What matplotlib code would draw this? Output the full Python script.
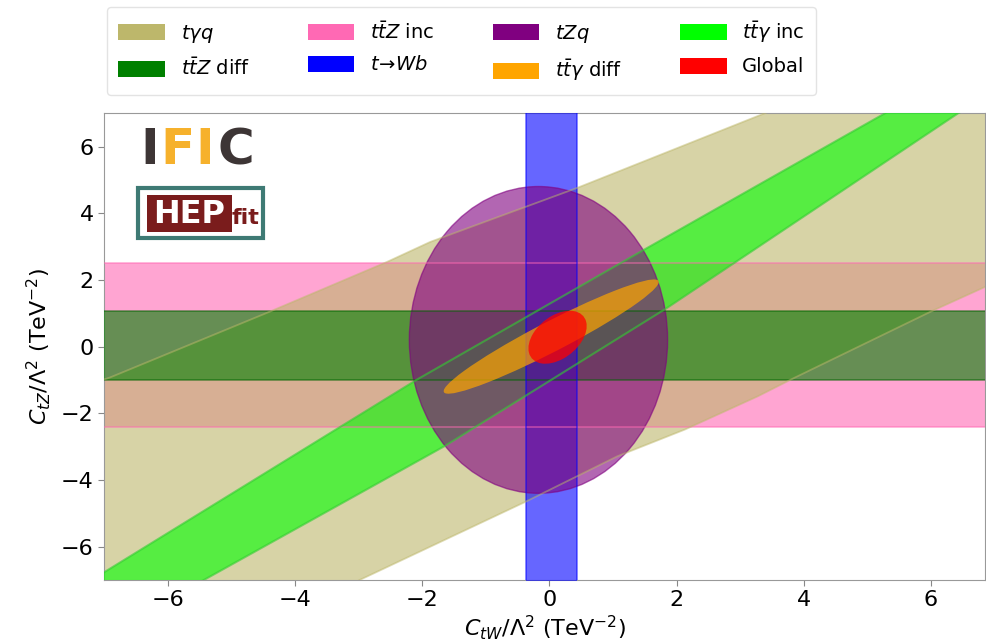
import numpy as np
import matplotlib.pyplot as plt
from matplotlib.patches import Ellipse, Patch, Rectangle

# --- contornos (C_tW, C_tZ) ---
# t gamma q : banda diagonal
tgq_up_x = [-7.5, -6.91, -5.65, -4.39, -2.55, -1.87, 0.44, 3.39, 4.5]
tgq_up_y = [-1.3, -0.93, 0.06, 1.05, 2.54, 3.14, 4.76, 7.0, 7.9]
tgq_lo_x = [-3.5, -2.98, -0.39, 1.07, 2.13, 3.28, 3.85, 6.01, 6.83, 7.5]
tgq_lo_y = [-7.5, -7.0, -4.67, -3.29, -2.49, -1.49, -0.94, 1.06, 1.77, 2.35]

# t tbar gamma inc : banda diagonal estrecha
tta_up_x = [-7.5, -7.0, -2.08, 1.43, 5.28, 6.0]
tta_up_y = [-7.3, -6.77, -0.99, 2.84, 7.0, 7.8]
tta_lo_x = [-5.9, -5.43, -1.65, 1.86, 6.43, 7.1]
tta_lo_y = [-7.5, -7.0, -2.99, 1.17, 7.0, 7.7]

# bandas horizontales / verticales
ttz_inc_y = [-2.42, 2.52]
ttz_diff_y = [-1.01, 1.06]
twb_x = [-0.36, 0.44]

# elipses: centro, ancho, alto, angulo
tzq_ell = [(-0.17, 0.2), 4.06, 9.2, 0.0]
tta_diff_ell = [(0.03, 0.30), 4.76, 0.72, 45.4]
global_ell = [(0.13, 0.28), 1.65, 0.8, 72.0]

labels = [r'$t\gamma q$', r'$t\bar{t}Z$ diff', r'$t\bar{t}Z$ inc', r'$t\!\to\! Wb$',
          r'$tZq$', r'$t\bar{t}\gamma$ diff', r'$t\bar{t}\gamma$ inc', 'Global']
colors = ['darkkhaki', 'green', 'hotpink', 'blue', 'purple', 'orange', 'lime', 'red']

xlim = (-7, 6.85)
ylim = (-7, 7)
alpha = 0.6

fig = plt.figure(figsize=(9.86, 6.43), dpi=100)
ax = fig.add_axes([0.1055, 0.098, 0.8935, 0.726])

# tt̄Z inc
ax.fill_between([-8, 8], ttz_inc_y[0], ttz_inc_y[1], color='hotpink', alpha=alpha, lw=0, zorder=1)
# tγq
ax.fill(tgq_up_x + [7.5] + tgq_lo_x[::-1] + [-7.5], tgq_up_y + [7.9] + tgq_lo_y[::-1] + [-7.5],
        color='darkkhaki', alpha=alpha, lw=0, zorder=2)
# tt̄Z diff
ax.fill_between([-8, 8], ttz_diff_y[0], ttz_diff_y[1], color='green', alpha=alpha, lw=0, zorder=3)
# tt̄γ inc
ax.fill(tta_up_x + tta_lo_x[::-1], tta_up_y + tta_lo_y[::-1], color='lime', alpha=alpha, lw=0, zorder=4)
# t->Wb
ax.fill_betweenx([-8, 8], twb_x[0], twb_x[1], color='blue', alpha=alpha, lw=0, zorder=5)
# tZq
ax.add_patch(Ellipse(tzq_ell[0], tzq_ell[1], tzq_ell[2], angle=tzq_ell[3],
                     facecolor='purple', edgecolor='purple', alpha=alpha, lw=1, zorder=6))

# bordes de los contornos
lk = dict(alpha=0.5, lw=1.3, zorder=6.5)
for yy in ttz_inc_y:
    ax.plot([-8, 8], [yy, yy], color='hotpink', **lk)
for yy in ttz_diff_y:
    ax.plot([-8, 8], [yy, yy], color='darkgreen', **lk)
for xx in twb_x:
    ax.plot([xx, xx], [-8, 8], color='blue', **lk)
ax.plot(tgq_up_x, tgq_up_y, color='darkkhaki', **lk)
ax.plot(tgq_lo_x, tgq_lo_y, color='darkkhaki', **lk)
ax.plot(tta_up_x, tta_up_y, color='limegreen', alpha=0.6, lw=1.5, zorder=6.5)
ax.plot(tta_lo_x, tta_lo_y, color='limegreen', alpha=0.6, lw=1.5, zorder=6.5)

# tt̄γ diff y Global
ax.add_patch(Ellipse(tta_diff_ell[0], tta_diff_ell[1], tta_diff_ell[2], angle=tta_diff_ell[3],
                     facecolor='orange', edgecolor='none', alpha=0.7, zorder=7))
ax.add_patch(Ellipse(global_ell[0], global_ell[1], global_ell[2], angle=global_ell[3],
                     facecolor='red', edgecolor='none', alpha=0.75, zorder=8))

ax.set_xlim(*xlim)
ax.set_ylim(*ylim)
ax.set_xticks(np.arange(-6, 7, 2))
ax.set_yticks(np.arange(-6, 7, 2))
ax.tick_params(labelsize=16, color='#888888', length=4)
for s in ax.spines.values():
    s.set_color('#999999')
ax.set_xlabel(r'$C_{tW}/\Lambda^2$ (TeV$^{-2}$)', fontsize=16, labelpad=2)
ax.set_ylabel(r'$C_{tZ}/\Lambda^2$ (TeV$^{-2}$)', fontsize=16, labelpad=6)

# logos
def axx(px):
    return (px - 104) / 881.0

def axy(py):
    return 1 - (py - 113) / 467.0

for ch, px, col in [('I', 150, '#3d3535'), ('F', 177, '#f6b12c'), ('I', 205, '#f6b12c'), ('C', 236, '#3d3535')]:
    ax.text(axx(px), axy(150), ch, transform=ax.transAxes, ha='center', va='center',
            fontsize=36, fontweight='bold', color=col, zorder=10)

ax.add_patch(Rectangle((axx(138), axy(238)), axx(263) - axx(138), axy(188) - axy(238),
                       transform=ax.transAxes, facecolor='white', edgecolor='#3e7a74', lw=3, zorder=10))
ax.add_patch(Rectangle((axx(147), axy(232)), axx(232) - axx(147), axy(195) - axy(232),
                       transform=ax.transAxes, facecolor='#7a1c1c', edgecolor='none', zorder=11))
ax.text(axx(189), axy(214), 'HEP', transform=ax.transAxes, ha='center', va='center',
        fontsize=23, fontweight='bold', color='white', zorder=12)
ax.text(axx(246), axy(218), 'fit', transform=ax.transAxes, ha='center', va='center',
        fontsize=16, fontweight='bold', color='#7a1c1c', zorder=12)

handles = [Patch(facecolor=c, edgecolor='none') for c in colors]
fig.legend(handles, labels, ncol=4, loc='upper left', bbox_to_anchor=(97 / 986, 1.004),
           fontsize=14, handlelength=2.4, handleheight=0.9, columnspacing=3.0,
           labelspacing=0.65, frameon=True, edgecolor='#dddddd', fancybox=True, borderpad=0.6)

plt.savefig('out.png', dpi=100)
